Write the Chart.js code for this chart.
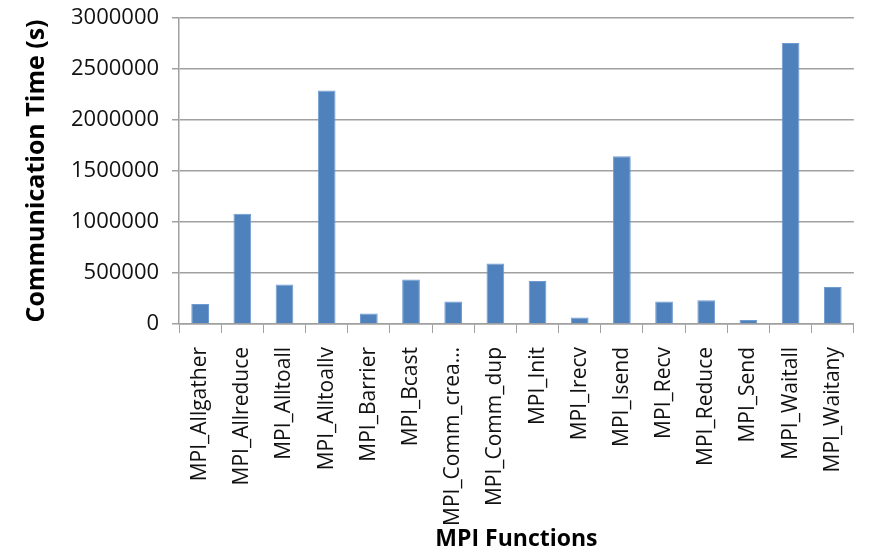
<!DOCTYPE html>
<html>
<head>
<meta charset="utf-8">
<script src="https://cdn.jsdelivr.net/npm/chart.js@4/dist/chart.umd.min.js"></script>
<style>
  html, body { margin: 0; padding: 0; background: #fff; }
  #wrap { width: 872px; height: 553px; }
</style>
</head>
<body>
<div id="wrap"><canvas id="grafico"></canvas></div>
<script>
// DATA
const funcoes = ["MPI_Allgather","MPI_Allreduce","MPI_Alltoall","MPI_Alltoallv","MPI_Barrier","MPI_Bcast",
  "MPI_Comm_crea…","MPI_Comm_dup","MPI_Init","MPI_Irecv","MPI_Isend","MPI_Recv","MPI_Reduce","MPI_Send",
  "MPI_Waitall","MPI_Waitany"];
const tempos = [196000,1080000,387000,2289000,102000,436000,220000,593000,422000,63000,1644000,220000,233000,39000,2754000,363000];
const yTicks = [0,500000,1000000,1500000,2000000,2500000,3000000];

const FONT = "'Open Sans', sans-serif";
const GRID = "#a0a0a0";

new Chart(document.getElementById("grafico"),{
  type:"bar",
  data:{
    labels:funcoes,
    datasets:[{
      data:tempos,
      backgroundColor:"#4f81bd",
      borderColor:"#6f9bd1",
      borderWidth:1,
      barPercentage:0.42,
      categoryPercentage:1
    }]
  },
  options:{
    responsive:true,
    maintainAspectRatio:false,
    animation:false,
    layout:{ padding:{ left:22, right:1, top:0, bottom:0 } },
    plugins:{ legend:{display:false}, tooltip:{enabled:false} },
    scales:{
      x:{
        afterFit:(s)=>{ s.height = 229; },
        grid:{ display:true, drawOnChartArea:false, color:GRID, tickLength:9, offset:true },
        border:{ color:GRID, width:1.5 },
        ticks:{ color:"#111", font:{family:FONT, size:21}, minRotation:90, maxRotation:90, padding:14, autoSkip:false },
        title:{ display:true, text:"MPI Functions", color:"#000", font:{family:FONT, size:23, weight:"bold"}, padding:{top:0, bottom:0} }
      },
      y:{
        min:0, max:3000000,
        afterBuildTicks:(axis)=>{ axis.ticks = yTicks.map(v=>({value:v})); },
        grid:{ color:GRID, lineWidth:1.5, tickLength:7 },
        border:{ color:GRID, width:1.5 },
        ticks:{ color:"#111", font:{family:FONT, size:22, lineHeight:0.45}, padding:13, callback:(v)=>String(v) },
        title:{ display:true, text:"Communication Time (s)", color:"#000", font:{family:FONT, size:25, weight:"bold"}, padding:{top:0, bottom:6} }
      }
    }
  }
});
</script>
</body>
</html>
